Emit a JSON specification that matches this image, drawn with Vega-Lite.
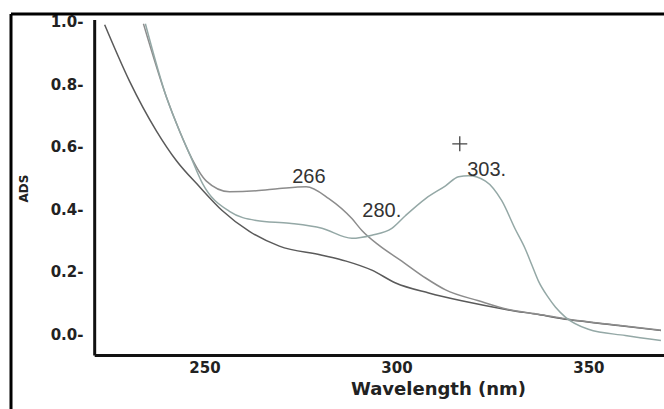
{
  "$schema": "https://vega.github.io/schema/vega-lite/v6.json",
  "width": 653,
  "height": 395,
  "autosize": {"type": "none"},
  "padding": {"left": 11, "top": 14, "right": 0, "bottom": 0},
  "background": "white",
  "config": {"view": {"stroke": null}},
  "datasets": {
    "frame": [
      {"xa": 199.6, "xb": 199.6, "ya": -0.239, "yb": 1.0244},
      {"xa": 199.6, "xb": 369.7, "ya": 1.0244, "yb": 1.0244}
    ],
    "axes": [
      {"xa": 221.4, "xb": 221.4, "ya": -0.0676, "yb": 1.005},
      {"xa": 221.4, "xb": 369.7, "ya": -0.0676, "yb": -0.0676}
    ],
    "spectra": [
      {"series": "A", "wl": 224.0, "abs": 0.99},
      {"series": "A", "wl": 230.5, "abs": 0.809},
      {"series": "A", "wl": 237.5, "abs": 0.65},
      {"series": "A", "wl": 242.7, "abs": 0.555},
      {"series": "A", "wl": 248.7, "abs": 0.472},
      {"series": "A", "wl": 254.6, "abs": 0.396},
      {"series": "A", "wl": 261.7, "abs": 0.329},
      {"series": "A", "wl": 269.5, "abs": 0.282},
      {"series": "A", "wl": 280.6, "abs": 0.253},
      {"series": "A", "wl": 286.9, "abs": 0.234},
      {"series": "A", "wl": 293.6, "abs": 0.205},
      {"series": "A", "wl": 299.8, "abs": 0.164},
      {"series": "A", "wl": 308.4, "abs": 0.132},
      {"series": "A", "wl": 317.0, "abs": 0.107},
      {"series": "A", "wl": 329.2, "abs": 0.078},
      {"series": "A", "wl": 337.0, "abs": 0.063},
      {"series": "A", "wl": 344.8, "abs": 0.047},
      {"series": "A", "wl": 357.8, "abs": 0.028},
      {"series": "A", "wl": 368.9, "abs": 0.012},
      {"series": "B", "wl": 234.1, "abs": 0.993},
      {"series": "B", "wl": 240.1, "abs": 0.758},
      {"series": "B", "wl": 243.5, "abs": 0.65},
      {"series": "B", "wl": 246.1, "abs": 0.577},
      {"series": "B", "wl": 250.5, "abs": 0.49},
      {"series": "B", "wl": 256.5, "abs": 0.456},
      {"series": "B", "wl": 263.5, "abs": 0.459},
      {"series": "B", "wl": 269.5, "abs": 0.466},
      {"series": "B", "wl": 276.5, "abs": 0.472},
      {"series": "B", "wl": 282.4, "abs": 0.434},
      {"series": "B", "wl": 288.4, "abs": 0.37},
      {"series": "B", "wl": 291.0, "abs": 0.332},
      {"series": "B", "wl": 295.4, "abs": 0.285},
      {"series": "B", "wl": 301.4, "abs": 0.234},
      {"series": "B", "wl": 307.6, "abs": 0.18},
      {"series": "B", "wl": 312.8, "abs": 0.142},
      {"series": "B", "wl": 321.4, "abs": 0.107},
      {"series": "B", "wl": 329.2, "abs": 0.079},
      {"series": "B", "wl": 337.0, "abs": 0.064},
      {"series": "B", "wl": 344.8, "abs": 0.048},
      {"series": "B", "wl": 357.8, "abs": 0.029},
      {"series": "B", "wl": 368.9, "abs": 0.013},
      {"series": "C", "wl": 234.6, "abs": 0.993},
      {"series": "C", "wl": 240.1, "abs": 0.758},
      {"series": "C", "wl": 243.5, "abs": 0.65},
      {"series": "C", "wl": 246.1, "abs": 0.577},
      {"series": "C", "wl": 249.5, "abs": 0.482},
      {"series": "C", "wl": 256.5, "abs": 0.393},
      {"series": "C", "wl": 263.5, "abs": 0.364},
      {"series": "C", "wl": 272.1, "abs": 0.355},
      {"series": "C", "wl": 280.6, "abs": 0.339},
      {"series": "C", "wl": 288.4, "abs": 0.307},
      {"series": "C", "wl": 293.6, "abs": 0.317},
      {"series": "C", "wl": 298.8, "abs": 0.339},
      {"series": "C", "wl": 302.4, "abs": 0.38},
      {"series": "C", "wl": 307.6, "abs": 0.434},
      {"series": "C", "wl": 312.8, "abs": 0.475},
      {"series": "C", "wl": 316.2, "abs": 0.504},
      {"series": "C", "wl": 318.8, "abs": 0.507},
      {"series": "C", "wl": 323.2, "abs": 0.49},
      {"series": "C", "wl": 327.4, "abs": 0.428},
      {"series": "C", "wl": 331.0, "abs": 0.335},
      {"series": "C", "wl": 333.6, "abs": 0.272},
      {"series": "C", "wl": 335.2, "abs": 0.224},
      {"series": "C", "wl": 337.0, "abs": 0.17},
      {"series": "C", "wl": 339.6, "abs": 0.117},
      {"series": "C", "wl": 341.4, "abs": 0.087},
      {"series": "C", "wl": 344.0, "abs": 0.055},
      {"series": "C", "wl": 350.0, "abs": 0.016},
      {"series": "C", "wl": 359.6, "abs": -0.004},
      {"series": "C", "wl": 368.9, "abs": -0.02}
    ],
    "labels": [
      {"label": "266", "wl": 277.2, "abs": 0.504},
      {"label": "280.", "wl": 296.2, "abs": 0.393},
      {"label": "303.", "wl": 323.5, "abs": 0.526}
    ],
    "marker": [
      {"wl": 316.5, "abs": 0.609}
    ]
  },
  "encoding": {
    "x": {
      "type": "quantitative",
      "scale": {"domain": [199.6, 369.7], "nice": false, "zero": false},
      "axis": {
        "title": "Wavelength (nm)", "offset": -54, "domain": false, "ticks": false, "grid": false,
        "values": [250, 300, 350], "labelPadding": 5,
        "labelFont": "DejaVu Sans", "labelFontWeight": "bold", "labelFontSize": 15, "labelColor": "#222222",
        "titleFont": "DejaVu Sans", "titleFontWeight": "bold", "titleFontSize": 18, "titleColor": "#222222",
        "titleX": 427, "titleY": 39, "titleBaseline": "alphabetic", "titleAnchor": "middle", "titleAlign": "center"
      }
    },
    "y": {
      "type": "quantitative",
      "scale": {"domain": [-0.239, 1.0244], "nice": false, "zero": false},
      "axis": {
        "title": "ADS", "offset": -84, "domain": false, "ticks": false, "grid": false,
        "values": [0, 0.2, 0.4, 0.6, 0.8, 1.0], "format": ".1f", "labelExpr": "datum.label + '-'",
        "labelPadding": 12,
        "labelFont": "DejaVu Sans", "labelFontWeight": "bold", "labelFontSize": 15, "labelColor": "#222222",
        "titleFont": "DejaVu Sans", "titleFontWeight": "bold", "titleFontSize": 12, "titleColor": "#222222",
        "titleX": -72, "titleY": 174, "titleAngle": -90, "titleBaseline": "middle", "titleAlign": "center"
      }
    }
  },
  "layer": [
    {
      "data": {"name": "frame"},
      "mark": {"type": "rule", "color": "#000000", "strokeWidth": 3},
      "encoding": {
        "x": {"field": "xa", "type": "quantitative"},
        "x2": {"field": "xb"},
        "y": {"field": "ya", "type": "quantitative"},
        "y2": {"field": "yb"}
      }
    },
    {
      "data": {"name": "axes"},
      "mark": {"type": "rule", "color": "#111111", "strokeWidth": 3},
      "encoding": {
        "x": {"field": "xa", "type": "quantitative"},
        "x2": {"field": "xb"},
        "y": {"field": "ya", "type": "quantitative"},
        "y2": {"field": "yb"}
      }
    },
    {
      "data": {"name": "spectra"},
      "mark": {"type": "line", "strokeWidth": 1.5, "interpolate": "monotone"},
      "encoding": {
        "x": {"field": "wl", "type": "quantitative"},
        "y": {"field": "abs", "type": "quantitative"},
        "color": {
          "field": "series", "type": "nominal",
          "scale": {"domain": ["A", "B", "C"], "range": ["#5a5a5a", "#8c8c8c", "#94a8a6"]},
          "legend": null
        },
        "detail": {"field": "series"}
      }
    },
    {
      "data": {"name": "labels"},
      "mark": {"type": "text", "font": "Liberation Sans", "fontSize": 20, "color": "#333333", "align": "center", "baseline": "middle"},
      "encoding": {
        "x": {"field": "wl", "type": "quantitative"},
        "y": {"field": "abs", "type": "quantitative"},
        "text": {"field": "label"}
      }
    },
    {
      "data": {"name": "marker"},
      "mark": {"type": "point", "shape": "M-1,0L1,0M0,-1L0,1", "size": 225, "stroke": "#444444", "strokeWidth": 1.3, "filled": false, "opacity": 1},
      "encoding": {
        "x": {"field": "wl", "type": "quantitative"},
        "y": {"field": "abs", "type": "quantitative"}
      }
    }
  ]
}
